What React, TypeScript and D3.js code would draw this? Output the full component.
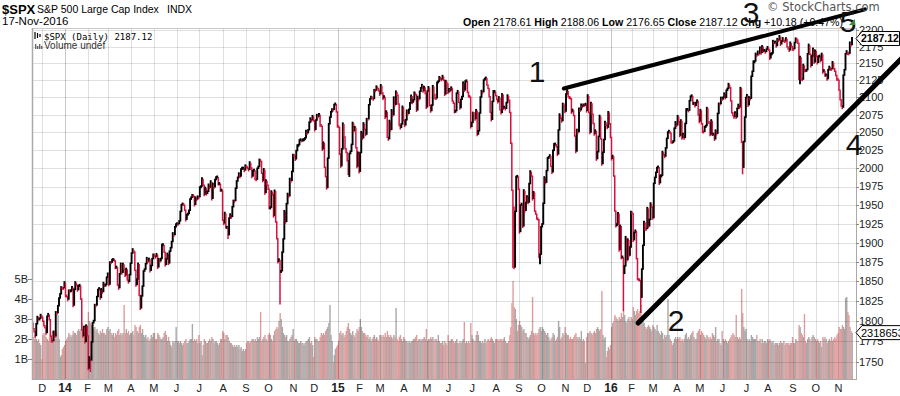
import * as d3 from "d3";
import { useEffect, useRef } from "react";

const W = 900;
const H = 396;

// month labels along the bottom ("" = partial first month)
const monthLabels = ["", "D", "14", "F", "M", "A", "M", "J", "J", "A", "S", "O", "N", "D", "15", "F", "M", "A", "M", "J", "J", "A", "S", "O", "N", "D", "16", "F", "M", "A", "M", "J", "J", "A", "S", "O", "N"];

const priceTicks = [1750, 1775, 1800, 1825, 1850, 1875, 1900, 1925, 1950, 1975, 2000, 2025, 2050, 2075, 2100, 2125, 2150, 2175, 2200];
const volumeTicks = [1, 2, 3, 4, 5];

const prevClose = 1798.18; // close before the first bar

// daily closes, one row per month (Nov-2013 .. Nov-2016)
const closeByMonth = [
  [1791.53, 1787.87, 1781.37, 1795.85, 1804.76, 1802.48, 1802.75, 1807.23, 1805.81],
  [1800.9, 1795.15, 1792.81, 1785.03, 1805.09, 1808.37, 1802.62, 1782.22, 1775.5, 1775.32, 1786.54, 1781.0, 1810.65, 1809.6, 1818.32, 1827.99, 1833.32, 1842.02, 1841.4, 1841.07, 1848.36],
  [1831.98, 1831.37, 1826.77, 1837.88, 1837.49, 1838.13, 1842.37, 1819.2, 1838.88, 1848.38, 1845.89, 1838.7, 1843.8, 1844.86, 1828.46, 1790.29, 1781.56, 1792.5, 1774.2, 1794.19, 1782.59],
  [1741.89, 1755.2, 1751.64, 1773.43, 1797.02, 1799.84, 1819.75, 1819.26, 1829.83, 1838.63, 1840.76, 1828.75, 1839.78, 1836.25, 1847.61, 1845.12, 1845.16, 1854.29, 1859.45],
  [1845.73, 1873.91, 1873.81, 1877.03, 1878.04, 1877.17, 1867.63, 1868.2, 1846.34, 1841.13, 1858.83, 1872.25, 1860.77, 1872.01, 1866.52, 1857.44, 1865.62, 1852.56, 1849.04, 1857.62, 1872.34],
  [1885.52, 1890.9, 1888.77, 1865.09, 1845.04, 1851.96, 1872.18, 1833.08, 1815.69, 1830.61, 1842.98, 1862.31, 1864.85, 1871.89, 1879.55, 1875.39, 1878.61, 1863.4, 1869.43, 1878.33, 1883.95],
  [1883.68, 1881.14, 1884.66, 1867.72, 1878.21, 1875.63, 1878.48, 1896.65, 1897.45, 1888.53, 1870.85, 1877.86, 1885.08, 1872.83, 1888.03, 1892.49, 1900.53, 1911.91, 1909.78, 1920.03, 1923.57],
  [1924.97, 1924.24, 1927.88, 1940.46, 1949.44, 1951.27, 1950.79, 1943.89, 1930.11, 1936.16, 1937.78, 1941.99, 1956.98, 1959.48, 1962.87, 1962.61, 1949.98, 1959.53, 1957.22, 1960.96, 1960.23],
  [1973.32, 1974.62, 1985.44, 1977.65, 1963.71, 1972.83, 1964.68, 1967.57, 1977.1, 1973.28, 1981.57, 1958.12, 1978.22, 1973.63, 1983.53, 1987.01, 1987.98, 1978.34, 1978.91, 1969.95, 1970.07, 1930.67],
  [1925.15, 1938.99, 1920.21, 1920.24, 1909.57, 1931.59, 1936.92, 1933.75, 1946.72, 1955.18, 1955.06, 1971.74, 1981.6, 1986.51, 1992.37, 1988.4, 1997.92, 2000.02, 2000.12, 1996.74, 2003.37],
  [2002.28, 2000.72, 1997.65, 2007.71, 2001.54, 1988.44, 1995.69, 1997.45, 1985.54, 1984.13, 1998.98, 2001.57, 2011.36, 2010.4, 1994.29, 1982.77, 1998.3, 1965.99, 1982.85, 1977.8, 1972.29],
  [1946.16, 1946.17, 1967.9, 1964.82, 1935.1, 1968.89, 1928.21, 1906.13, 1874.74, 1877.7, 1862.49, 1862.76, 1886.76, 1904.01, 1941.28, 1927.11, 1950.82, 1964.58, 1961.63, 1985.05, 1982.3, 1994.65, 2018.05],
  [2017.81, 2012.1, 2023.57, 2031.21, 2031.92, 2038.26, 2039.68, 2038.25, 2039.33, 2039.82, 2041.32, 2051.8, 2048.72, 2052.75, 2063.5, 2069.41, 2067.03, 2072.83, 2067.56],
  [2053.44, 2066.55, 2074.33, 2071.92, 2075.37, 2060.31, 2059.82, 2026.14, 2035.33, 2002.33, 1989.63, 1972.74, 2012.89, 2061.23, 2070.65, 2078.54, 2082.17, 2081.88, 2088.77, 2090.57, 2080.35, 2058.9],
  [2058.2, 2020.58, 2002.61, 2025.9, 2062.14, 2044.81, 2028.26, 2023.03, 2011.27, 1992.67, 2019.42, 2022.55, 2032.12, 2063.15, 2051.82, 2057.09, 2029.55, 2002.16, 2021.25, 1994.99],
  [2020.85, 2050.03, 2041.51, 2062.52, 2055.47, 2046.74, 2068.59, 2068.53, 2088.48, 2096.99, 2100.34, 2099.68, 2097.45, 2110.3, 2109.66, 2115.48, 2113.86, 2110.74, 2104.5],
  [2117.39, 2107.78, 2098.53, 2101.04, 2071.26, 2079.43, 2044.16, 2040.24, 2065.95, 2053.4, 2081.19, 2074.28, 2099.5, 2089.27, 2108.1, 2104.42, 2091.5, 2061.05, 2056.15, 2061.02, 2086.24, 2067.89],
  [2059.69, 2066.96, 2080.62, 2076.33, 2081.9, 2091.18, 2102.06, 2092.43, 2095.84, 2106.63, 2104.99, 2081.18, 2100.4, 2097.29, 2107.96, 2112.93, 2117.69, 2108.92, 2114.76, 2106.85, 2085.51],
  [2108.29, 2114.49, 2089.46, 2080.15, 2088.0, 2116.1, 2105.33, 2099.12, 2098.48, 2121.1, 2122.73, 2129.2, 2127.83, 2125.85, 2130.82, 2126.06, 2104.2, 2123.48, 2120.79, 2107.39],
  [2111.73, 2109.6, 2114.07, 2095.84, 2092.83, 2079.28, 2080.15, 2105.2, 2108.86, 2094.11, 2084.43, 2096.29, 2100.44, 2121.24, 2109.99, 2122.85, 2124.2, 2108.58, 2102.31, 2101.49, 2057.64, 2063.11],
  [2077.42, 2076.78, 2068.76, 2081.34, 2046.68, 2051.31, 2076.62, 2099.6, 2108.95, 2107.4, 2124.29, 2126.64, 2128.28, 2119.21, 2114.15, 2102.15, 2079.65, 2067.64, 2093.25, 2108.57, 2108.63, 2103.84],
  [2098.04, 2093.32, 2099.84, 2083.56, 2077.57, 2104.18, 2084.07, 2086.05, 2083.39, 2091.54, 2102.44, 2096.92, 2079.61, 2035.73, 1970.89, 1893.21, 1867.61, 1940.51, 1987.66, 1988.87, 1972.18],
  [1913.85, 1948.86, 1951.13, 1921.22, 1969.41, 1942.04, 1952.29, 1961.05, 1953.03, 1978.09, 1995.31, 1990.2, 1958.03, 1966.97, 1942.74, 1938.76, 1932.24, 1931.34, 1881.77, 1884.09, 1920.03],
  [1923.82, 1951.36, 1987.05, 1979.92, 1995.83, 2013.43, 2014.89, 2017.46, 2003.69, 1994.24, 2023.86, 2033.11, 2033.66, 2030.77, 2018.94, 2052.51, 2075.15, 2071.18, 2065.89, 2090.35, 2089.41, 2079.36],
  [2104.05, 2109.79, 2102.31, 2099.93, 2099.2, 2078.58, 2081.72, 2075.0, 2045.97, 2023.04, 2053.19, 2050.44, 2083.58, 2081.24, 2089.17, 2086.59, 2089.14, 2088.87, 2090.11, 2080.41],
  [2102.63, 2079.51, 2049.62, 2091.69, 2077.07, 2063.59, 2047.62, 2052.23, 2012.37, 2021.94, 2043.41, 2073.07, 2041.89, 2005.55, 2021.15, 2038.97, 2064.29, 2060.99, 2056.5, 2078.36, 2063.36, 2043.94],
  [2012.66, 2016.71, 1990.26, 1943.09, 1922.03, 1923.67, 1938.68, 1890.28, 1921.84, 1880.33, 1881.33, 1859.33, 1868.99, 1906.9, 1877.08, 1903.63, 1882.95, 1893.36, 1940.24],
  [1939.38, 1903.03, 1912.53, 1915.45, 1880.05, 1853.44, 1852.21, 1851.86, 1829.08, 1864.78, 1895.58, 1926.82, 1917.83, 1917.78, 1945.5, 1921.27, 1929.8, 1951.7, 1948.05, 1932.23],
  [1978.35, 1986.45, 1993.4, 1999.99, 2001.76, 1979.26, 1989.26, 1989.57, 2022.19, 2019.64, 2015.93, 2027.22, 2040.59, 2049.58, 2051.6, 2049.8, 2036.71, 2035.94, 2037.05, 2055.01, 2063.95, 2059.74],
  [2072.78, 2066.13, 2045.17, 2066.66, 2041.91, 2047.6, 2041.99, 2061.72, 2082.42, 2082.78, 2080.73, 2094.34, 2100.8, 2102.4, 2091.48, 2091.58, 2087.79, 2091.7, 2095.15, 2075.81, 2065.3],
  [2081.43, 2063.37, 2051.12, 2050.63, 2057.14, 2058.69, 2084.39, 2064.46, 2064.11, 2046.61, 2066.66, 2047.21, 2047.63, 2040.04, 2052.32, 2048.04, 2076.06, 2090.54, 2090.1, 2099.06, 2096.95],
  [2099.33, 2105.26, 2099.13, 2109.41, 2112.13, 2119.12, 2115.48, 2096.07, 2079.06, 2075.32, 2071.5, 2077.99, 2071.22, 2083.25, 2088.9, 2085.45, 2113.32, 2037.41, 2000.54, 2036.09, 2070.77, 2098.86],
  [2102.95, 2088.55, 2099.73, 2097.9, 2129.9, 2137.16, 2152.14, 2152.43, 2163.75, 2161.74, 2166.89, 2163.78, 2173.02, 2165.17, 2175.03, 2168.48, 2169.18, 2166.58, 2170.06, 2173.6],
  [2170.84, 2157.03, 2163.79, 2164.25, 2182.87, 2180.89, 2181.74, 2175.49, 2185.79, 2184.05, 2190.15, 2178.15, 2182.22, 2187.02, 2183.87, 2182.64, 2186.9, 2175.44, 2172.47, 2169.04, 2180.38, 2176.12, 2170.95],
  [2170.86, 2179.98, 2186.48, 2186.16, 2181.3, 2127.81, 2159.04, 2127.02, 2125.77, 2147.26, 2139.16, 2139.12, 2139.76, 2163.12, 2177.18, 2164.69, 2146.1, 2159.93, 2171.37, 2151.13, 2168.27],
  [2161.2, 2150.49, 2159.73, 2160.77, 2153.74, 2163.66, 2136.73, 2139.18, 2132.55, 2132.98, 2126.5, 2139.6, 2144.29, 2141.34, 2141.16, 2151.33, 2143.16, 2139.43, 2133.04, 2126.41, 2126.15],
  [2111.72, 2097.94, 2088.66, 2085.18, 2131.52, 2139.56, 2163.26, 2167.48, 2164.45, 2164.2, 2180.39, 2176.94, 2187.12],
];

// daily volume in billions, same layout
const volumeByMonth = [
  [2.1, 2.0, 2.2, 2.0, 1.9, 2.0, 1.8, 1.7, 1.0],
  [2.2, 2.3, 2.2, 2.1, 2.0, 1.9, 2.1, 2.3, 2.2, 2.4, 2.1, 2.0, 2.4, 2.3, 3.2, 2.0, 1.1, 1.2, 1.5, 1.6, 1.7],
  [1.9, 2.0, 2.1, 2.3, 2.2, 2.1, 2.2, 2.4, 2.3, 2.3, 2.2, 2.4, 2.5, 2.4, 2.5, 2.8, 2.6, 2.5, 2.7, 2.6, 2.7],
  [3.35, 2.9, 2.8, 2.7, 2.6, 2.5, 2.6, 2.4, 2.5, 2.3, 2.2, 2.4, 2.3, 2.5, 2.3, 2.3, 2.2, 2.5, 2.6],
  [2.4, 2.5, 2.3, 2.2, 2.3, 2.1, 2.3, 2.2, 2.4, 2.5, 2.2, 2.3, 2.2, 2.3, 3.7, 2.3, 2.5, 2.3, 2.4, 2.2, 2.3],
  [2.3, 2.4, 2.2, 2.7, 2.6, 2.4, 2.3, 2.6, 2.7, 2.3, 2.5, 2.2, 2.1, 2.2, 2.0, 2.1, 1.9, 2.0, 2.2, 2.1, 2.3],
  [2.3, 2.0, 2.0, 2.3, 2.2, 2.1, 2.0, 2.0, 2.1, 2.3, 2.4, 2.2, 1.9, 2.1, 1.9, 1.7, 1.6, 1.9, 1.8, 1.9, 2.6],
  [1.9, 1.9, 1.8, 1.9, 1.8, 1.7, 1.8, 1.9, 2.0, 1.8, 1.8, 1.9, 2.0, 2.0, 2.75, 1.9, 2.0, 1.9, 2.0, 1.8, 2.2],
  [1.8, 1.9, 1.2, 1.7, 2.0, 1.9, 1.8, 1.8, 1.9, 2.0, 1.9, 2.1, 2.0, 1.8, 1.9, 1.9, 1.8, 1.7, 1.8, 2.0, 2.0, 2.4],
  [2.3, 2.0, 2.2, 2.2, 2.1, 1.9, 1.8, 1.8, 1.7, 1.6, 1.7, 1.6, 1.7, 1.6, 1.7, 1.5, 1.6, 1.4, 1.5, 1.4, 1.5],
  [1.8, 1.9, 1.9, 1.8, 1.9, 2.0, 2.0, 1.9, 2.0, 1.9, 2.1, 2.0, 2.1, 3.35, 1.9, 2.0, 2.1, 2.2, 2.0, 1.9, 2.2],
  [2.3, 2.2, 2.0, 1.9, 2.2, 2.4, 2.5, 2.6, 2.5, 2.9, 3.3, 3.0, 2.6, 2.3, 2.2, 2.1, 2.2, 1.9, 1.9, 2.0, 2.1, 2.2, 2.5],
  [1.9, 2.0, 2.0, 1.9, 1.8, 1.8, 1.9, 1.8, 1.8, 1.7, 1.8, 1.9, 1.9, 2.0, 2.1, 1.8, 1.9, 1.7, 1.1],
  [2.1, 2.0, 2.0, 1.9, 1.9, 2.1, 2.3, 2.2, 2.3, 2.2, 2.4, 2.5, 2.6, 2.8, 3.7, 2.2, 1.9, 0.85, 1.2, 1.5, 1.6, 1.7],
  [1.9, 2.3, 2.4, 2.2, 2.3, 2.1, 2.2, 2.4, 2.6, 2.8, 2.5, 2.3, 2.2, 2.4, 2.2, 2.1, 2.3, 2.5, 2.4, 2.6],
  [3.0, 2.6, 2.4, 2.3, 2.3, 2.2, 2.1, 2.2, 2.0, 2.1, 1.9, 2.0, 2.1, 2.2, 2.0, 2.1, 2.0, 1.9, 2.2],
  [2.2, 2.1, 2.2, 2.1, 2.3, 2.1, 2.4, 2.2, 2.1, 2.2, 2.1, 2.0, 2.2, 2.1, 3.55, 2.0, 1.9, 2.1, 2.2, 2.0, 1.9, 2.1],
  [2.0, 1.9, 1.9, 1.8, 1.9, 1.8, 1.9, 1.9, 2.0, 2.0, 2.1, 2.2, 1.9, 2.0, 2.0, 1.9, 2.0, 2.0, 2.1, 2.0, 2.5],
  [1.9, 2.0, 2.0, 2.1, 2.0, 2.1, 1.9, 2.0, 2.0, 1.9, 2.2, 1.9, 1.8, 1.8, 1.9, 1.7, 1.9, 1.8, 1.7, 2.2],
  [1.9, 1.9, 2.0, 2.0, 1.9, 1.8, 1.9, 2.0, 1.8, 1.8, 1.9, 1.8, 1.9, 2.0, 2.85, 1.8, 1.9, 1.8, 1.9, 1.8, 2.8, 2.2],
  [2.0, 1.9, 1.9, 2.2, 2.4, 2.2, 1.9, 1.9, 1.8, 1.9, 1.8, 2.0, 1.8, 1.9, 2.0, 1.9, 2.0, 2.1, 2.0, 1.9, 1.8, 2.0],
  [2.0, 2.0, 1.9, 2.0, 2.0, 1.9, 2.0, 2.1, 1.9, 1.8, 1.8, 1.9, 2.2, 2.6, 3.8, 4.9, 3.6, 3.5, 3.0, 2.4, 2.7],
  [2.9, 2.7, 2.6, 2.4, 2.5, 2.3, 2.3, 2.1, 2.0, 2.1, 2.2, 2.4, 4.1, 2.3, 2.2, 2.3, 2.2, 2.3, 2.5, 2.6, 2.4],
  [2.6, 2.5, 2.4, 2.3, 2.2, 2.3, 2.1, 1.9, 2.0, 2.1, 2.3, 2.2, 1.9, 2.0, 2.1, 2.9, 2.6, 2.0, 2.1, 2.3, 2.2, 2.6],
  [2.3, 2.2, 2.2, 2.0, 2.1, 2.0, 2.0, 2.1, 2.2, 2.3, 2.1, 2.0, 2.1, 2.0, 2.4, 1.9, 2.0, 1.9, 0.8, 2.1],
  [2.3, 2.3, 2.4, 2.3, 2.2, 2.3, 2.4, 2.3, 2.5, 2.6, 2.5, 2.4, 2.5, 4.4, 2.2, 2.0, 2.1, 1.1, 1.4, 1.6, 1.5, 1.7],
  [2.6, 2.8, 2.9, 3.2, 3.1, 3.0, 2.9, 3.1, 3.0, 3.3, 3.1, 3.4, 3.2, 2.9, 2.8, 3.0, 3.1, 2.9, 3.1],
  [3.0, 3.6, 3.4, 3.2, 3.4, 3.5, 3.3, 3.4, 3.7, 3.1, 2.9, 2.8, 2.6, 2.5, 2.6, 2.7, 2.6, 2.5, 2.4, 2.7],
  [2.6, 2.5, 2.4, 2.7, 2.4, 2.3, 2.2, 2.4, 2.3, 2.0, 2.2, 2.1, 2.2, 4.0, 2.2, 2.0, 1.9, 1.7, 1.8, 2.0, 2.1, 2.0],
  [2.1, 2.0, 2.1, 1.9, 2.0, 1.9, 2.0, 2.2, 2.3, 2.0, 2.1, 2.0, 2.2, 2.3, 2.4, 2.1, 2.0, 2.0, 2.3, 2.4, 2.5],
  [2.2, 2.4, 2.3, 2.2, 2.1, 2.0, 2.2, 2.1, 2.0, 2.1, 2.0, 2.3, 2.2, 2.1, 2.6, 1.9, 2.0, 2.0, 1.8, 1.7, 2.4],
  [2.0, 1.9, 2.0, 1.9, 1.8, 1.9, 2.0, 2.1, 2.2, 2.3, 2.2, 2.1, 3.2, 2.1, 2.0, 2.1, 2.0, 4.5, 3.3, 2.6, 2.4, 2.5],
  [2.0, 1.9, 2.0, 1.9, 2.2, 2.1, 2.0, 2.0, 2.0, 2.2, 1.9, 1.9, 2.0, 1.8, 2.0, 1.8, 1.9, 1.9, 1.8, 2.0],
  [1.9, 2.0, 1.9, 1.8, 1.9, 1.7, 1.8, 1.8, 1.8, 1.7, 1.8, 1.9, 1.8, 1.8, 1.9, 1.7, 1.8, 1.8, 1.8, 1.7, 1.8, 1.8, 2.1],
  [1.8, 1.8, 2.0, 1.9, 1.9, 2.7, 2.6, 2.3, 2.2, 2.1, 3.25, 1.9, 1.8, 2.0, 2.1, 2.0, 1.9, 2.1, 2.2, 2.1, 2.0],
  [1.9, 2.0, 1.9, 1.8, 1.9, 1.6, 2.1, 2.0, 2.1, 2.0, 1.8, 1.9, 2.0, 1.9, 2.1, 1.9, 2.0, 2.1, 2.0, 2.2, 2.3],
  [2.6, 2.5, 2.5, 2.7, 2.6, 2.5, 4.05, 4.1, 3.35, 3.2, 2.6, 2.4, 2.318653],
];

// intraday extremes that reach past the close-to-close range [bar index, price]
const intradayLows: [number, number][] = [
  [53, 1737.9], // 05-Feb-2014
  [99, 1814.4], // 11-Apr-2014
  [180, 1904.8], // 07-Aug-2014
  [228, 1820.7], // 15-Oct-2014
  [271, 1972.6], // 16-Dec-2014
  [292, 1988.1], // 16-Jan-2015
  [443, 1867.0], // 24-Aug-2015
  [468, 1871.9], // 29-Sep-2015
  [545, 1812.3], // 20-Jan-2016
  [561, 1810.1], // 11-Feb-2016
  [655, 1991.7], // 27-Jun-2016
  [708, 2119.1], // 12-Sep-2016
  [747, 2083.8], // 04-Nov-2016
];
const intradayHighs: [number, number][] = [
  [444, 1948.0], // 25-Aug-2015
];

// hand drawn trend lines [bar index, price]
const trendLines = [
  { from: [490, 2113], to: [768, 2231.5], width: 4 },
  { from: [558.6, 1797.6], to: [805, 2162.4], width: 5 },
];

const notes = [
  { label: "1", x: 537, y: 82 },
  { label: "2", x: 676, y: 331 },
  { label: "3", x: 751, y: 23 },
  { label: "4", x: 854, y: 155 },
  { label: "5", x: 848, y: 32 },
];

const quote = [
  ["Open", "2178.61"],
  ["High", "2188.06"],
  ["Low", "2176.65"],
  ["Close", "2187.12"],
  ["Chg", "+10.18 (+0.47%)"],
];

const font = "'Liberation Sans', Arial, sans-serif";

function App() {
  const ref = useRef<SVGSVGElement>(null);

  useEffect(() => {
    const closes = closeByMonth.flat();
    const volumes = volumeByMonth.flat();
    const n = closes.length;
    const left = 32, right = 856, top = 28, bottom = 379;

    const x = d3.scaleLinear().domain([0, n - 1]).range([33, 852]);
    const y = d3.scaleLog().domain([1750, 2200]).range([362, 30]);
    const yv = d3.scaleLinear().domain([0, 5]).range([bottom, 279]);
    const step = x(1) - x(0);

    const lows = new Map(intradayLows);
    const highs = new Map(intradayHighs);
    const bars = closes.map((c, i) => {
      const prev = i === 0 ? prevClose : closes[i - 1];
      let hi = Math.max(prev, c);
      let lo = Math.min(prev, c);
      if (lows.has(i)) lo = Math.min(lo, lows.get(i)!);
      if (highs.has(i)) hi = Math.max(hi, highs.get(i)!);
      return { i, c, hi, lo, down: c < prev, v: volumes[i] };
    });

    const starts = [0, ...d3.cumsum(closeByMonth.map((m) => m.length))].slice(0, closeByMonth.length);
    const months = starts.slice(1).map((s, k) => ({ s, label: monthLabels[k + 1] }));
    const isYear = (l: string) => /\d/.test(l);

    const svg = d3.select(ref.current);
    svg.selectAll("*").remove();

    svg.append("rect").attr("width", W).attr("height", H).attr("fill", "#fff");

    // volume
    svg
      .append("g")
      .selectAll("rect")
      .data(bars)
      .enter()
      .append("rect")
      .attr("x", (d) => x(d.i) - step / 2)
      .attr("width", step + 0.3)
      .attr("y", (d) => yv(d.v))
      .attr("height", (d) => bottom - yv(d.v))
      .attr("fill", (d) => (d.down ? "#e09c9c" : "#a7a7a7"));

    // grid
    const grid = svg.append("g");
    grid
      .selectAll("line.h")
      .data(priceTicks)
      .enter()
      .append("line")
      .attr("x1", left)
      .attr("x2", right)
      .attr("y1", (d) => Math.round(y(d)) + 0.5)
      .attr("y2", (d) => Math.round(y(d)) + 0.5)
      .attr("stroke", "#000")
      .attr("stroke-opacity", 0.12);
    grid
      .selectAll("line.v")
      .data(months)
      .enter()
      .append("line")
      .attr("x1", (d) => Math.round(x(d.s) - step / 2) + 0.5)
      .attr("x2", (d) => Math.round(x(d.s) - step / 2) + 0.5)
      .attr("y1", top)
      .attr("y2", bottom)
      .attr("stroke", "#000")
      .attr("stroke-opacity", (d) => (isYear(d.label) ? 0.22 : 0.12));

    // price bars
    svg
      .append("g")
      .selectAll("line")
      .data(bars)
      .enter()
      .append("line")
      .attr("x1", (d) => x(d.i))
      .attr("x2", (d) => x(d.i))
      .attr("y1", (d) => Math.min(y(d.hi), y(d.c) - 1.5))
      .attr("y2", (d) => Math.max(y(d.lo), y(d.c) + 1.5))
      .attr("stroke", (d) => (d.down ? "#d8103c" : "#000"))
      .attr("stroke-width", (d) => (d.down ? 1.5 : 1.9));

    // frame
    const frame = svg.append("g").attr("stroke", "#aaa").attr("fill", "none");
    frame.append("line").attr("x1", left).attr("x2", right).attr("y1", top + 0.5).attr("y2", top + 0.5).attr("stroke", "#c8c8c8");
    frame.append("line").attr("x1", left).attr("x2", right).attr("y1", bottom + 0.5).attr("y2", bottom + 0.5);
    frame.append("line").attr("x1", left + 0.5).attr("x2", left + 0.5).attr("y1", top).attr("y2", bottom + 1).attr("stroke-width", 1.5);
    frame.append("line").attr("x1", right + 0.5).attr("x2", right + 0.5).attr("y1", top).attr("y2", bottom + 1);

    // right price axis
    const ra = svg.append("g");
    ra.selectAll("line")
      .data(priceTicks)
      .enter()
      .append("line")
      .attr("x1", right)
      .attr("x2", right + 3)
      .attr("y1", (d) => Math.round(y(d)) + 0.5)
      .attr("y2", (d) => Math.round(y(d)) + 0.5)
      .attr("stroke", "#888");
    ra.selectAll("text")
      .data(priceTicks)
      .enter()
      .append("text")
      .attr("x", right + 3)
      .attr("y", (d) => y(d))
      .attr("dy", "0.36em")
      .attr("font-family", font)
      .attr("font-size", 11)
      .attr("fill", "#222")
      .text((d) => d);

    // left volume axis
    const la = svg.append("g");
    la.selectAll("line")
      .data(volumeTicks)
      .enter()
      .append("line")
      .attr("x1", left - 4)
      .attr("x2", left)
      .attr("y1", (d) => Math.round(yv(d)) + 0.5)
      .attr("y2", (d) => Math.round(yv(d)) + 0.5)
      .attr("stroke", "#888");
    la.selectAll("text")
      .data(volumeTicks)
      .enter()
      .append("text")
      .attr("x", left - 4)
      .attr("y", (d) => yv(d))
      .attr("dy", "0.36em")
      .attr("text-anchor", "end")
      .attr("font-family", font)
      .attr("font-size", 11)
      .attr("fill", "#222")
      .text((d) => `${d}B`);

    // month labels
    svg
      .append("g")
      .selectAll("text")
      .data(months)
      .enter()
      .append("text")
      .attr("x", (d) => x(d.s) - step / 2)
      .attr("y", 392)
      .attr("text-anchor", "middle")
      .attr("font-family", font)
      .attr("font-size", (d) => (isYear(d.label) ? 12 : 11))
      .attr("font-weight", (d) => (isYear(d.label) ? "bold" : "normal"))
      .attr("fill", "#222")
      .text((d) => d.label);

    // trend lines
    svg
      .append("g")
      .selectAll("line")
      .data(trendLines)
      .enter()
      .append("line")
      .attr("x1", (d) => x(d.from[0]))
      .attr("y1", (d) => y(d.from[1]))
      .attr("x2", (d) => x(d.to[0]))
      .attr("y2", (d) => y(d.to[1]))
      .attr("stroke", "#000")
      .attr("stroke-width", (d) => d.width)
      .attr("stroke-linecap", "round");

    // last price / volume markers
    const marker = (yy: number, txt: string, bold: boolean, boxRight: number) => {
      const g = svg.append("g");
      g.append("path")
        .attr("d", `M${right},${yy} L${right + 6},${yy - 7} L${boxRight},${yy - 7} L${boxRight},${yy + 7} L${right + 6},${yy + 7} Z`)
        .attr("fill", "#fff")
        .attr("stroke", "#000")
        .attr("stroke-width", 1);
      g.append("text")
        .attr("x", right + 5)
        .attr("y", yy)
        .attr("dy", "0.36em")
        .attr("font-family", font)
        .attr("font-size", bold ? 10.5 : 11)
        .attr("font-weight", bold ? "bold" : "normal")
        .attr("fill", "#000")
        .text(txt);
    };
    marker(y(closes[n - 1]), closes[n - 1].toFixed(2), true, 899.5);
    marker(yv(volumes[n - 1]), Math.round(volumes[n - 1] * 1e6).toString(), false, W + 2);

    // header
    const hdr = svg.append("g").attr("font-family", font).attr("fill", "#000");
    hdr.append("text").attr("x", 2).attr("y", 14).attr("font-size", 13).attr("font-weight", "bold").text("$SPX");
    hdr.append("text").attr("x", 37).attr("y", 13).attr("font-size", 10.5).text("S&P 500 Large Cap Index");
    hdr.append("text").attr("x", 167).attr("y", 13).attr("font-size", 10.5).text("INDX");
    hdr.append("text").attr("x", 2).attr("y", 25).attr("font-size", 11.5).text("17-Nov-2016");
    hdr
      .append("text")
      .attr("x", 767)
      .attr("y", 11)
      .attr("font-family", "'DejaVu Sans', sans-serif")
      .attr("font-size", 11.5)
      .attr("fill", "#555")
      .text("© StockCharts.com");

    const q = hdr.append("text").attr("x", 843).attr("y", 26).attr("text-anchor", "end").attr("font-size", 10.6);
    quote.forEach(([k, v], idx) => {
      q.append("tspan").attr("font-weight", "bold").text((idx ? "  " : "") + k);
      q.append("tspan").text(" " + v);
    });

    // legend
    const lg = svg.append("g");
    [35, 37.5, 40].forEach((lx, k) => {
      lg.append("line")
        .attr("x1", lx).attr("x2", lx)
        .attr("y1", 32 + k).attr("y2", 39 - k)
        .attr("stroke", "#000").attr("stroke-width", 1.2);
    });
    lg.append("text")
      .attr("x", 44)
      .attr("y", 40)
      .attr("font-family", "'DejaVu Sans Mono', monospace")
      .attr("font-size", 9)
      .attr("fill", "#000")
      .text("$SPX (Daily) 2187.12");
    [35, 37, 39, 41].forEach((lx, k) => {
      lg.append("rect")
        .attr("x", lx).attr("width", 1.4)
        .attr("y", 44 + (k % 2) * 2).attr("height", 5 - (k % 2) * 2)
        .attr("fill", "#666");
    });
    lg.append("text")
      .attr("x", 44)
      .attr("y", 49)
      .attr("font-family", font)
      .attr("font-size", 10)
      .attr("fill", "#333")
      .text("Volume undef");

    // annotation numbers
    svg
      .append("g")
      .selectAll("text")
      .data(notes)
      .enter()
      .append("text")
      .attr("x", (d) => d.x)
      .attr("y", (d) => d.y)
      .attr("text-anchor", "middle")
      .attr("font-family", font)
      .attr("font-size", 30)
      .attr("fill", "#111")
      .text((d) => d.label);

    svg
      .append("path")
      .attr("d", "M849,25 L855,19 L855,25 Z")
      .attr("fill", "#3a8a3a");
  }, []);

  return (
    <svg
      ref={ref}
      width={W}
      height={H}
      style={{ position: "absolute", left: 0, top: 0, display: "block" }}
    />
  );
}

export default App;
